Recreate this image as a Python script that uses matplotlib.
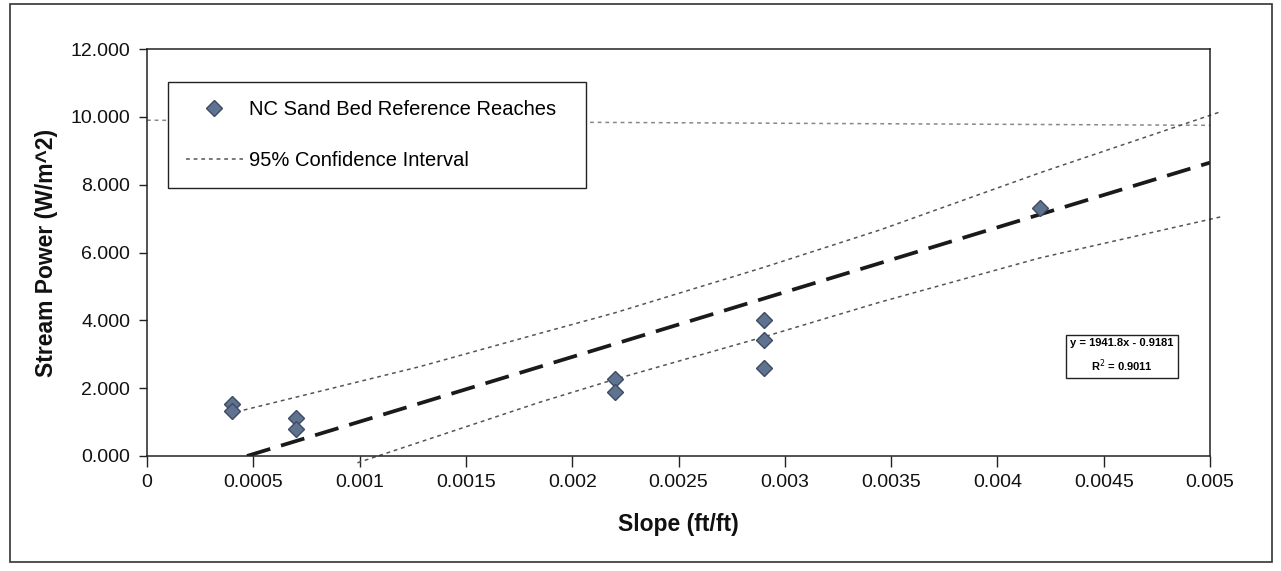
import matplotlib
matplotlib.use("Agg")
import matplotlib.pyplot as plt
from matplotlib.patches import Rectangle
from matplotlib.lines import Line2D

plt.rcParams['font.family'] = ['Liberation Sans', 'DejaVu Sans']

# measured reaches (slope ft/ft, stream power W/m^2)
slope = [0.0004, 0.0004, 0.0007, 0.0007, 0.0022, 0.0022, 0.0029, 0.0029, 0.0029, 0.0042]
power = [1.53, 1.33, 1.12, 0.80, 2.28, 1.88, 4.02, 3.42, 2.60, 7.30]

# linear trend line (end points as drawn)
trend_x = [0.00047, 0.005]
trend_y = [0.0, 8.65]

# 95% confidence bands
upper_x = [0.00042, 0.00128, 0.00185, 0.0022, 0.0029, 0.00345, 0.0042, 0.00505]
upper_y = [1.30, 2.63, 3.62, 4.22, 5.56, 6.67, 8.35, 10.15]
lower_x = [0.00099, 0.00185, 0.0022, 0.0029, 0.00345, 0.0042, 0.00505]
lower_y = [-0.20, 1.59, 2.26, 3.51, 4.54, 5.84, 7.05]

# dotted horizontal reference line near 10
ref_x = [0.0, 0.005]
ref_y = [9.9, 9.75]

xticks = [0, 0.0005, 0.001, 0.0015, 0.002, 0.0025, 0.003, 0.0035, 0.004, 0.0045, 0.005]
xticklabels = ['0', '0.0005', '0.001', '0.0015', '0.002', '0.0025', '0.003', '0.0035', '0.004', '0.0045', '0.005']
yticks = [0, 2, 4, 6, 8, 10, 12]

fig = plt.figure(figsize=(12.81, 5.71), dpi=100)
ax = fig.add_axes([147 / 1281, 1 - 456 / 571, (1210 - 147) / 1281, (456 - 49) / 571])

ci_kw = dict(color='#555555', lw=1.1, ls=(0, (2.5, 2.5)), clip_on=False)
ax.plot(ref_x, ref_y, color='#888888', lw=1.1, ls=(0, (2.5, 2.5)))
ax.plot(upper_x, upper_y, **ci_kw)
ax.plot(lower_x, lower_y, **ci_kw)
ax.plot(trend_x, trend_y, color='#1a1a1a', lw=2.7, ls=(0, (6.5, 3)))
ax.plot(slope, power, ls='none', marker='D', ms=8.5, mfc='#5f7290', mec='#3d4c63', mew=1.0, zorder=5)

ax.set_xlim(0, 0.005)
ax.set_ylim(0, 12)
ax.set_xticks(xticks)
ax.set_xticklabels(xticklabels)
ax.set_yticks(yticks)
ax.set_yticklabels(['%.3f' % v for v in yticks])
ax.tick_params(axis='both', labelsize=14, color='#222222', labelcolor='#111111', width=1)
ax.tick_params(axis='y', length=6, pad=6)
ax.tick_params(axis='x', length=8, pad=5)
for s in ax.spines.values():
    s.set_color('#222222')
    s.set_linewidth(1.1)

ax.set_xlabel('Slope (ft/ft)', fontsize=16.5, fontweight='bold', labelpad=16, color='#111111')
ax.set_ylabel('Stream Power (W/m^2)', fontsize=16.5, fontweight='bold', labelpad=9, color='#111111')

handles = [
    Line2D([], [], ls='none', marker='D', ms=8.5, mfc='#5f7290', mec='#3d4c63'),
    Line2D([], [], color='#555555', lw=1.1, ls=(0, (2.5, 2.5))),
]
leg = fig.legend(handles, ['NC Sand Bed Reference Reaches', '95% Confidence Interval'],
                 loc='upper left', bbox_to_anchor=(168 / 1281, 1 - 82 / 571, (586 - 168) / 1281, 0.0),
                 mode='expand', borderaxespad=0, fontsize=14.5, frameon=True, fancybox=False,
                 framealpha=1, edgecolor='#222222', borderpad=0.9, labelspacing=1.6,
                 handlelength=2.8, handletextpad=0.3)
leg.get_frame().set_linewidth(1.0)

fig.text(1122 / 1281, 1 - 356 / 571, 'y = 1941.8x - 0.9181\nR$^2$ = 0.9011', ha='center', va='center',
         fontsize=8, fontweight='bold', linespacing=1.7,
         bbox=dict(boxstyle='square,pad=0.4', fc='white', ec='#222222', lw=1.0))

fig.patches.append(Rectangle((10 / 1281, 1 - 562 / 571), 1262 / 1281, 558 / 571,
                             transform=fig.transFigure, fill=False, ec='#333333', lw=1.2))

fig.savefig('out.png', dpi=100)
